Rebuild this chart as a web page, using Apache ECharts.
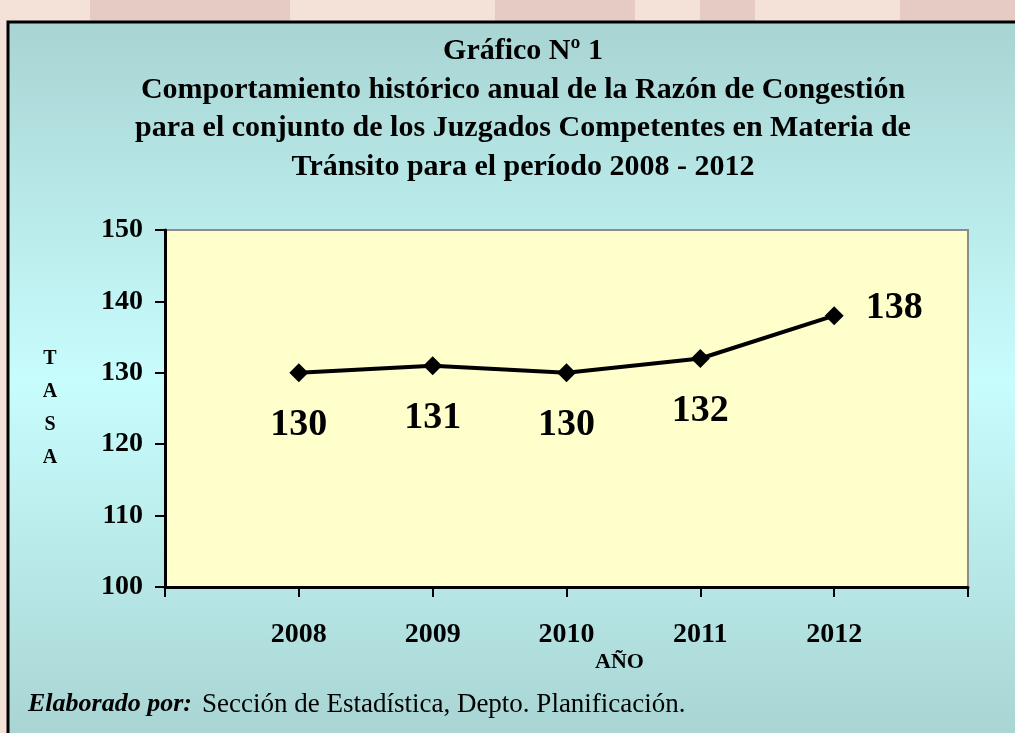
<!DOCTYPE html>
<html>
<head>
<meta charset="utf-8">
<script src="https://cdn.jsdelivr.net/npm/echarts@6/dist/echarts.min.js"></script>
<style>
  html, body { margin: 0; padding: 0; }
  #chart { width: 1015px; height: 733px; }
</style>
</head>
<body>
<div id="chart"></div>
<script>
// datos del gráfico
var years = [2008, 2009, 2010, 2011, 2012];
var tasa = [130, 131, 130, 132, 138];
var yTicks = [100, 110, 120, 130, 140, 150];

var serif = "'Liberation Serif', 'Times New Roman', serif";

var points = years.map(function (y, i) {
  return [y, tasa[i]];
});

var chart = echarts.init(document.getElementById("chart"));

var option = {
  backgroundColor: "#F4E2D9",
  animation: false,
  title: {
    text: "Gráfico Nº 1\nComportamiento histórico anual de la Razón de Congestión\npara el conjunto de los Juzgados Competentes en Materia de\nTránsito para el período 2008 - 2012",
    left: 518,
    textAlign: "center",
    top: 27,
    textStyle: {
      fontFamily: serif,
      fontWeight: "bold",
      fontSize: 30,
      lineHeight: 38.5,
      color: "#000"
    }
  },
  grid: {
    left: 165,
    right: 47,
    top: 230,
    bottom: 146,
    show: true,
    backgroundColor: "#FFFFCC",
    borderColor: "#8C8C8C",
    borderWidth: 2
  },
  xAxis: {
    type: "value",
    min: 2007,
    max: 2013,
    interval: 1,
    splitLine: { show: false },
    axisLine: { lineStyle: { color: "#000", width: 3 } },
    axisTick: { show: true, length: 10, lineStyle: { color: "#000", width: 2 } },
    axisLabel: {
      margin: 34,
      fontFamily: serif,
      fontWeight: "bold",
      fontSize: 28,
      color: "#000",
      formatter: function (v) {
        return years.indexOf(v) >= 0 ? String(v) : "";
      }
    }
  },
  yAxis: {
    type: "value",
    min: yTicks[0],
    max: yTicks[yTicks.length - 1],
    interval: 10,
    splitLine: { show: false },
    axisLine: { show: true, lineStyle: { color: "#000", width: 3 } },
    axisTick: { show: true, length: 10, lineStyle: { color: "#000", width: 2 } },
    axisLabel: {
      margin: 22,
      fontFamily: serif,
      fontWeight: "bold",
      fontSize: 28,
      color: "#000"
    },
    name: "T\nA\nS\nA",
    nameLocation: "middle",
    nameRotate: 0,
    nameGap: 115,
    nameTextStyle: {
      fontFamily: serif,
      fontWeight: "bold",
      fontSize: 20,
      lineHeight: 33,
      align: "center",
      color: "#000"
    }
  },
  series: [
    {
      type: "line",
      data: points,
      symbol: "diamond",
      symbolSize: 19,
      lineStyle: { color: "#000", width: 4 },
      itemStyle: { color: "#000" },
      label: {
        show: true,
        position: "bottom",
        distance: 24,
        fontFamily: serif,
        fontWeight: "bold",
        fontSize: 38,
        color: "#000",
        formatter: function (p) { return p.value[1]; }
      },
      labelLayout: function (p) {
        // el último valor va a la derecha del punto
        if (p.dataIndex === years.length - 1) {
          return { x: p.rect.x + p.rect.width + 22, y: p.rect.y - 17, align: "left" };
        }
      }
    }
  ],
  graphic: [
    // manchas del fondo
    { type: "rect", z: -20, shape: { x: 90, y: 0, width: 200, height: 22 }, style: { fill: "#E6CBC5" } },
    { type: "rect", z: -20, shape: { x: 495, y: 0, width: 140, height: 22 }, style: { fill: "#E6CBC5" } },
    { type: "rect", z: -20, shape: { x: 700, y: 0, width: 55, height: 22 }, style: { fill: "#E6CBC5" } },
    { type: "rect", z: -20, shape: { x: 900, y: 0, width: 115, height: 22 }, style: { fill: "#E6CBC5" } },
    {
      type: "rect",
      z: -10,
      shape: { x: 8, y: 22, width: 1020, height: 720 },
      style: {
        fill: new echarts.graphic.LinearGradient(0, 0, 0, 1, [
          { offset: 0, color: "#A8D4D3" },
          { offset: 0.5, color: "#C8FDFD" },
          { offset: 1, color: "#A8D4D3" }
        ]),
        stroke: "#000",
        lineWidth: 3
      }
    },
    {
      type: "text",
      left: 595,
      top: 651,
      style: {
        text: "AÑO",
        font: "bold 22px " + serif,
        fill: "#000"
      }
    },
    {
      type: "text",
      left: 28,
      top: 691,
      style: {
        text: "{b|Elaborado por:}   {n|Sección de Estadística, Depto. Planificación.}",
        rich: {
          b: { fontFamily: serif, fontSize: 26, fontWeight: "bold", fontStyle: "italic", fill: "#000" },
          n: { fontFamily: serif, fontSize: 27, fill: "#000" }
        }
      }
    }
  ]
};

chart.setOption(option);
</script>
</body>
</html>
